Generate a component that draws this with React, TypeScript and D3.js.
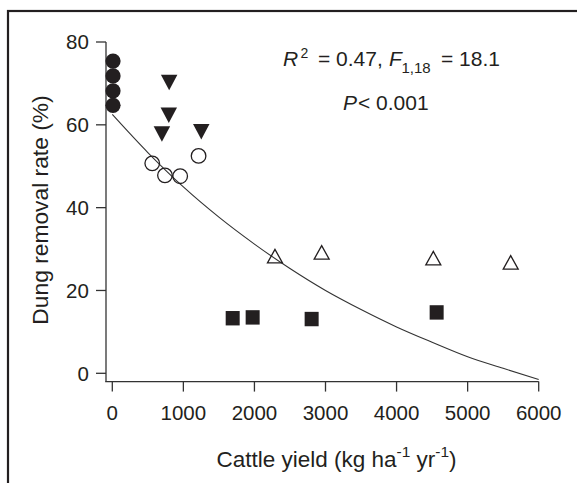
import * as d3 from "d3";

const W = 577;
const H = 483;

// scale anchors
const X_DOMAIN = [0, 6000];
const Y_DOMAIN = [0, 80];
const xTicks = [0, 1000, 2000, 3000, 4000, 5000, 6000];
const yTicks = [0, 20, 40, 60, 80];

// filled circles (x, y)
const filledCircles = [
  [10, 75.4],
  [10, 71.8],
  [10, 68.2],
  [10, 64.7],
];
// filled downward triangles
const filledTriangles = [
  [800, 70.2],
  [795, 62.3],
  [698, 57.8],
  [1252, 58.3],
];
// open circles
const openCircles = [
  [562, 50.7],
  [741, 47.8],
  [955, 47.6],
  [1214, 52.5],
];
// open upward triangles
const openTriangles = [
  [2289, 28.3],
  [2946, 29.2],
  [4517, 27.8],
  [5606, 26.8],
];
// filled squares
const filledSquares = [
  [1694, 13.3],
  [1975, 13.5],
  [2805, 13.1],
  [4564, 14.7],
];
// fitted curve
const curveX = [0, 500, 1000, 1500, 2000, 2500, 3000, 3500, 4000, 4500, 5000, 5500, 6000];
const curveY = [62.5, 53.3, 45.0, 37.7, 31.2, 25.3, 20.0, 15.4, 11.2, 7.5, 4.0, 1.2, -1.5];

const INK = "#231f20";
const FONT = "'Liberation Sans', Arial, Helvetica, sans-serif";

export default function App() {
  const x = d3.scaleLinear().domain(X_DOMAIN).range([112.3, 538.7]);
  const y = d3.scaleLinear().domain(Y_DOMAIN).range([373.3, 42]);

  const axisX0 = x(-100);
  const axisY0 = y(-2);

  const line = d3
    .line<number>()
    .x((_, i) => x(curveX[i]))
    .y((d) => y(d))
    .curve(d3.curveMonotoneX);

  const triDown = (cx: number, cy: number, w: number, h: number) =>
    `M${cx - w / 2},${cy - h / 2}L${cx + w / 2},${cy - h / 2}L${cx},${cy + h / 2}Z`;
  const triUp = (cx: number, cy: number, w: number, h: number) =>
    `M${cx - w / 2},${cy + h / 2}L${cx + w / 2},${cy + h / 2}L${cx},${cy - h / 2}Z`;

  return (
    <svg
      width={W}
      height={H}
      style={{ position: "absolute", left: 0, top: 0, background: "#fff" }}
      fontFamily={FONT}
    >
      {/* frame, cut at the right and bottom */}
      <rect x={8} y={11} width={620} height={520} fill="none" stroke={INK} strokeWidth={2.2} />

      {/* axes */}
      <g stroke="#333" strokeWidth={1.3} fill="none">
        <line x1={x(0) - 6.3} x2={x(0) - 6.3} y1={y(80)} y2={axisY0} />
        <line x1={axisX0} x2={x(6000)} y1={axisY0} y2={axisY0} />
        {yTicks.map((t) => (
          <line key={t} x1={x(0) - 16.3} x2={x(0) - 6.3} y1={y(t)} y2={y(t)} />
        ))}
        {xTicks.map((t) => (
          <line key={t} x1={x(t)} x2={x(t)} y1={axisY0} y2={axisY0 + 10} />
        ))}
      </g>
      <g fontSize={20.5} fill={INK}>
        {yTicks.map((t) => (
          <text key={t} x={x(0) - 23.5} y={y(t)} dy="0.36em" textAnchor="end">
            {t}
          </text>
        ))}
        {xTicks.map((t) => (
          <text key={t} x={x(t)} y={axisY0 + 38.5} textAnchor="middle">
            {t}
          </text>
        ))}
      </g>

      {/* axis titles */}
      <text
        transform={`translate(48,210) rotate(-90)`}
        fontSize={22.8}
        fill={INK}
        textAnchor="middle"
      >
        Dung removal rate (%)
      </text>
      <text x={336.5} y={467} fontSize={22.5} fill={INK} textAnchor="middle">
        Cattle yield (kg ha
        <tspan fontSize={15.5} dy={-10}>-1</tspan>
        <tspan dy={10}> yr</tspan>
        <tspan fontSize={15.5} dy={-10}>-1</tspan>
        <tspan dy={10}>)</tspan>
      </text>

      {/* fitted curve */}
      <path d={line(curveY) || ""} fill="none" stroke="#333" strokeWidth={1.1} />

      {/* points */}
      {filledCircles.map(([a, b], i) => (
        <circle key={"fc" + i} cx={x(a)} cy={y(b)} r={7.6} fill={INK} />
      ))}
      {filledTriangles.map(([a, b], i) => (
        <path key={"ft" + i} d={triDown(x(a), y(b), 16.5, 15.5)} fill={INK} />
      ))}
      {openCircles.map(([a, b], i) => (
        <circle key={"oc" + i} cx={x(a)} cy={y(b)} r={7.3} fill="none" stroke={INK} strokeWidth={1.3} />
      ))}
      {openTriangles.map(([a, b], i) => (
        <path key={"ot" + i} d={triUp(x(a), y(b), 15, 13.5)} fill="none" stroke={INK} strokeWidth={1.3} />
      ))}
      {filledSquares.map(([a, b], i) => (
        <rect key={"fs" + i} x={x(a) - 7} y={y(b) - 7.2} width={14} height={14.4} fill={INK} />
      ))}

      {/* statistics */}
      <g fontSize={21} fill={INK}>
        <text y={66}>
          <tspan x={283} fontStyle="italic">R</tspan>
          <tspan x={300.5} dy={-8} fontSize={14}>2</tspan>
          <tspan x={318} dy={8}>= 0.47,</tspan>
          <tspan x={389} fontStyle="italic">F</tspan>
          <tspan x={401.5} dy={7} fontSize={15}>1,18</tspan>
          <tspan x={441} dy={-7}>= 18.1</tspan>
        </text>
        <text y={110}>
          <tspan x={343} fontStyle="italic">P</tspan>
          <tspan x={358}>&lt; 0.001</tspan>
        </text>
      </g>
    </svg>
  );
}
